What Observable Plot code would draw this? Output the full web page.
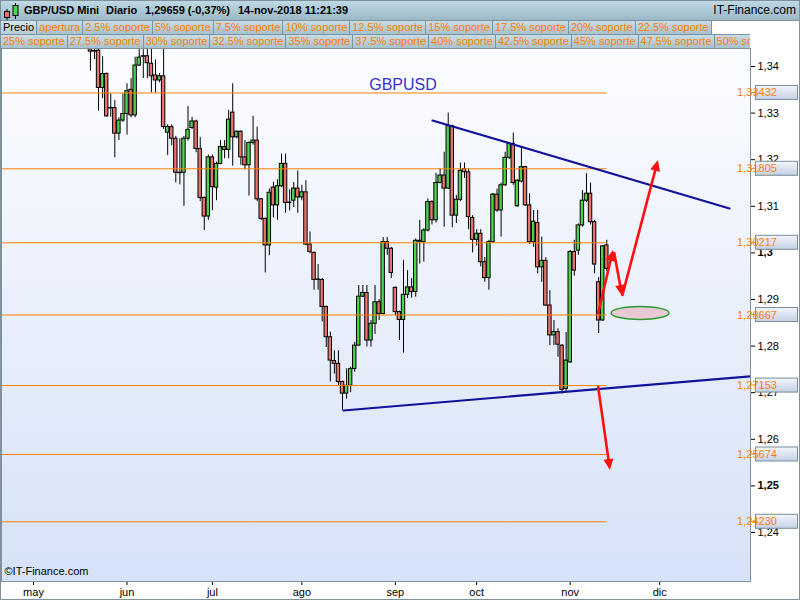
<!DOCTYPE html>
<html><head><meta charset="utf-8">
<script src="https://cdn.jsdelivr.net/npm/d3@7"></script>
<script src="https://cdn.jsdelivr.net/npm/@observablehq/plot@0.6"></script>
<style>
body{margin:0;background:#fff;font-family:Arial,"Liberation Sans",sans-serif;}
#wrap{position:relative;width:800px;height:600px;overflow:hidden;background:#fff;}
.hdr{position:absolute;left:0;top:0;width:800px;height:21px;box-sizing:border-box;border:1px solid #7b93a1;background:linear-gradient(#bed9e4,#9cb8c6);}
.ht{position:absolute;top:3px;font-size:11px;font-weight:bold;color:#000;white-space:nowrap;}
.row{position:absolute;left:0;width:750px;height:15px;display:flex;overflow:hidden;}
.btn{flex:none;height:15px;box-sizing:border-box;border:1px solid #7d95a3;margin-right:-1px;padding:0 2px;background:linear-gradient(#c8dce5,#a7c1ce);color:#ff8000;font-size:11px;line-height:13px;white-space:nowrap;}
.fill{flex:1;background:#fff;}
#chart{position:absolute;left:0;top:48px;}
#border{position:absolute;left:0;top:0;width:800px;height:600px;box-sizing:border-box;border:1px solid #7f919d;pointer-events:none;}
</style></head>
<body>
<div id="wrap">
  <div class="hdr">
    <svg width="20" height="20" style="position:absolute;left:1px;top:0px">
      <line x1="5" y1="8" x2="5" y2="19" stroke="#000"/>
      <rect x="2.5" y="10.5" width="5" height="6" fill="#e8726e" stroke="#000"/>
      <line x1="13.5" y1="2" x2="13.5" y2="18" stroke="#000"/>
      <rect x="11" y="4.5" width="5" height="10" fill="#4fd34f" stroke="#000"/>
    </svg>
    <span class="ht" style="left:23px">GBP/USD Mini</span>
    <span class="ht" style="left:105px">Diario</span>
    <span class="ht" style="left:144px">1,29659 (-0,37%)</span>
    <span class="ht" style="left:237px">14-nov-2018 11:21:39</span>
    <span class="ht" style="right:3px;font-weight:normal;font-size:12px;top:2px">IT-Finance.com</span>
  </div>
  <div class="row" id="row1" style="top:20px"></div>
  <div class="row" id="row2" style="top:34px"></div>
  <div id="chart"></div>
  <div id="border"></div>
</div>
<script>
// ---- data ----
const legendRow1 = ["Precio","apertura","2.5% soporte","5% soporte","7.5% soporte","10% soporte","12.5% soporte","15% soporte","17.5% soporte","20% soporte","22.5% soporte"];
const legendRow2 = ["25% soporte","27.5% soporte","30% soporte","32.5% soporte","35% soporte","37.5% soporte","40% soporte","42.5% soporte","45% soporte","47.5% soporte","50% soporte"];

// trading-day index of first candle (0 = 1 May 2018)
const firstIndex = 14;
const open = [1.3437,1.3432,1.3434,1.3354,1.3384,1.3310,1.3311,1.3256,1.3284,1.3298,1.3350,1.3295,1.3402,1.3422,1.3422,1.3406,1.3381,1.3370,1.3379,1.3258,1.3270,1.3245,1.3172,1.3172,1.3245,1.3268,1.3282,1.3223,1.3118,1.3078,1.3205,1.3140,1.3191,1.3227,1.3221,1.3301,1.3248,1.3260,1.3205,1.3188,1.3236,1.3241,1.3115,1.3073,1.3016,1.3140,1.3102,1.3143,1.3191,1.3107,1.3112,1.3138,1.3119,1.3130,1.3018,1.3000,1.2942,1.2942,1.2884,1.2819,1.2768,1.2762,1.2723,1.2698,1.2715,1.2751,1.2801,1.2906,1.2914,1.2812,1.2848,1.2894,1.2869,1.3023,1.3009,1.2925,1.2873,1.2856,1.2910,1.2926,1.2916,1.3026,1.3023,1.3048,1.3109,1.3070,1.3150,1.3166,1.3138,1.3272,1.3080,1.3114,1.3180,1.3173,1.3075,1.3028,1.3041,1.2980,1.2946,1.3023,1.3125,1.3091,1.3145,1.3204,1.3234,1.3100,1.3153,1.3184,1.3102,1.3023,1.3064,1.2969,1.2983,1.2887,1.2823,1.2830,1.2801,1.2708,1.2765,1.3002,1.3005,1.3059,1.3112,1.3127,1.3066,1.2937,1.2855,1.3016];
const high = [1.3450,1.3441,1.3440,1.3421,1.3386,1.3341,1.3327,1.3290,1.3341,1.3363,1.3374,1.3420,1.3437,1.3436,1.3440,1.3437,1.3414,1.3385,1.3437,1.3275,1.3275,1.3250,1.3245,1.3250,1.3314,1.3291,1.3285,1.3248,1.3120,1.3210,1.3210,1.3195,1.3241,1.3241,1.3306,1.3363,1.3262,1.3262,1.3241,1.3238,1.3293,1.3270,1.3117,1.3075,1.3137,1.3152,1.3157,1.3212,1.3212,1.3135,1.3151,1.3176,1.3145,1.3155,1.3045,1.3002,1.2975,1.2945,1.2886,1.2830,1.2790,1.2790,1.2725,1.2751,1.2755,1.2808,1.2930,1.2930,1.2930,1.2855,1.2930,1.2900,1.3033,1.3033,1.3012,1.2927,1.2875,1.2984,1.2962,1.2945,1.3030,1.3070,1.3052,1.3116,1.3112,1.3171,1.3180,1.3216,1.3300,1.3274,1.3123,1.3193,1.3193,1.3180,1.3080,1.3050,1.3050,1.2990,1.3027,1.3128,1.3137,1.3150,1.3216,1.3236,1.3257,1.3157,1.3226,1.3186,1.3127,1.3091,1.3091,1.3034,1.2990,1.2919,1.2855,1.2837,1.2803,1.2829,1.3005,1.3027,1.3062,1.3134,1.3170,1.3150,1.3070,1.2947,1.3016,1.3027];
const low = [1.3390,1.3415,1.3304,1.3331,1.3291,1.3291,1.3204,1.3241,1.3280,1.3253,1.3290,1.3290,1.3400,1.3374,1.3374,1.3343,1.3343,1.3365,1.3265,1.3209,1.3230,1.3150,1.3146,1.3100,1.3240,1.3265,1.3215,1.3110,1.3048,1.3070,1.3091,1.3112,1.3189,1.3202,1.3202,1.3186,1.3245,1.3188,1.3178,1.3122,1.3231,1.3110,1.3069,1.2957,1.2994,1.3075,1.3070,1.3140,1.3085,1.3090,1.3097,1.3085,1.3112,1.3015,1.2998,1.2920,1.2920,1.2852,1.2797,1.2723,1.2740,1.2715,1.2662,1.2686,1.2700,1.2744,1.2800,1.2904,1.2798,1.2798,1.2825,1.2855,1.2867,1.2995,1.2945,1.2865,1.2812,1.2785,1.2902,1.2903,1.2905,1.2976,1.2980,1.3045,1.3060,1.3064,1.3148,1.3055,1.3136,1.3054,1.3063,1.3110,1.3160,1.3050,1.3000,1.3015,1.2970,1.2937,1.2920,1.3021,1.3087,1.3034,1.3143,1.3200,1.3145,1.3098,1.3150,1.3100,1.3018,1.3012,1.2955,1.2937,1.2885,1.2801,1.2801,1.2776,1.2697,1.2700,1.2763,1.2950,1.2995,1.3055,1.3108,1.3060,1.2955,1.2827,1.2853,1.2960];
const close = [1.3432,1.3433,1.3354,1.3384,1.3293,1.3311,1.3256,1.3284,1.3298,1.3347,1.3295,1.3402,1.3419,1.3421,1.3407,1.3379,1.3370,1.3379,1.3270,1.3270,1.3245,1.3172,1.3171,1.3245,1.3264,1.3282,1.3223,1.3118,1.3078,1.3205,1.3141,1.3191,1.3227,1.3221,1.3286,1.3248,1.3260,1.3205,1.3188,1.3236,1.3241,1.3115,1.3073,1.3016,1.3129,1.3102,1.3143,1.3191,1.3107,1.3108,1.3138,1.3119,1.3130,1.3018,1.3002,1.2942,1.2943,1.2884,1.2819,1.2769,1.2762,1.2723,1.2698,1.2715,1.2751,1.2801,1.2906,1.2914,1.2812,1.2848,1.2894,1.2869,1.3023,1.3009,1.2957,1.2873,1.2856,1.2910,1.2926,1.2916,1.3026,1.3024,1.3048,1.3109,1.3070,1.3150,1.3166,1.3138,1.3272,1.3080,1.3114,1.3176,1.3173,1.3077,1.3028,1.3041,1.2980,1.2946,1.3023,1.3125,1.3091,1.3145,1.3204,1.3234,1.3150,1.3155,1.3184,1.3102,1.3023,1.3067,1.2969,1.2983,1.2887,1.2823,1.2830,1.2803,1.2706,1.2769,1.3002,1.2962,1.3059,1.3112,1.3127,1.3066,1.2975,1.2855,1.3014,1.29659];

// support / resistance levels
const levels = [1.33432, 1.31805, 1.30217, 1.28667, 1.27153, 1.25674, 1.24230];
const levelLabels = ["1,33432","1,31805","1,30217","1,28667","1,27153","1,25674","1,24230"];

// axis ticks
const yTicks = [1.24, 1.26, 1.27, 1.28, 1.29, 1.31, 1.32, 1.33, 1.34];
const yTicksBold = [1.25, 1.30];
const monthIdx = [0, 23, 44, 66, 89, 109, 132, 154];
const monthLabels = ["may","jun","jul","ago","sep","oct","nov","dic"];

// annotations (trading-day index, price)
const upperTrend = [{i: 98.13, v: 1.32841}, {i: 171.18, v: 1.30953}];
const lowerTrend = [{i: 76.24, v: 1.26618}, {i: 176.3, v: 1.27352}];
const arrows = [
  {i1: 138.96, v1: 1.28678, i2: 142.65, v2: 1.30052},
  {i1: 142.90, v1: 1.30009, i2: 144.90, v2: 1.29064},
  {i1: 144.90, v1: 1.29064, i2: 153.70, v2: 1.31983},
  {i1: 138.96, v1: 1.27133, i2: 141.90, v2: 1.25330}
];
const target = {i: 149.3, v: 1.2870};

// ---- legend rows ----
function buildRow(id, labels, first) {
  const row = document.getElementById(id);
  labels.forEach((t, k) => {
    const b = document.createElement("div");
    b.className = "btn";
    b.textContent = t;
    if (first && k === 0) { b.style.color = "#000"; b.style.background = "linear-gradient(#d4e4eb,#b6ccd7)"; }
    row.appendChild(b);
  });
  if (first) { const f = document.createElement("div"); f.className = "btn fill"; row.appendChild(f); }
}
buildRow("row1", legendRow1, true);
buildRow("row2", legendRow2, false);

// ---- candles ----
const candles = open.map((o, k) => ({i: firstIndex + k, o, h: high[k], l: low[k], c: close[k]}));
const lastIndex = firstIndex + open.length - 1;
const GREEN = "#4fd34f", RED = "#e8726e";
const monthMap = new Map(monthIdx.map((d, k) => [d, monthLabels[k]]));
const fmt = v => d3.format(".2~f")(v).replace(".", ",");

const xDomain = [-7.87, 176.34];
const chart = Plot.plot({
  width: 800, height: 552,
  marginTop: 0, marginBottom: 19, marginLeft: 1, marginRight: 50,
  style: {fontFamily: "Arial, 'Liberation Sans', sans-serif", fontSize: "11px", background: "transparent", overflow: "visible"},
  x: {domain: xDomain, axis: null, label: null},
  y: {domain: [1.229485, 1.343863], axis: null, label: null},
  marks: [
    Plot.frame({fill: "url(#plotbg)"}),
    Plot.ruleX(candles, {x: "i", y1: "l", y2: "h", stroke: "#000", strokeWidth: 1, clip: true}),
    Plot.rect(candles, {x1: d => d.i - 0.42, x2: d => d.i + 0.42, y1: "o", y2: "c",
      fill: d => d.c >= d.o ? GREEN : RED, stroke: "#000", strokeWidth: 1, clip: true}),
    Plot.ruleY(levels, {y: d => d, x1: xDomain[0], x2: lastIndex, stroke: "#ff8000", strokeWidth: 1}),
    Plot.line(upperTrend, {x: "i", y: "v", stroke: "#12129a", strokeWidth: 2.2, clip: true}),
    Plot.line(lowerTrend, {x: "i", y: "v", stroke: "#12129a", strokeWidth: 2.2, clip: true}),
    Plot.text(["GBPUSD"], {frameAnchor: "top", dx: 27, dy: 30, fill: "#3434c8", fontSize: 16}),
    Plot.text(["©IT-Finance.com"], {frameAnchor: "bottom-left", dx: 3, dy: -7, textAnchor: "start", fill: "#000", fontSize: 11}),
    Plot.axisY({anchor: "right", ticks: yTicks, tickFormat: fmt, tickSize: 4, tickPadding: 3, color: "#000", fontSize: 11, label: null}),
    Plot.axisY({anchor: "right", ticks: yTicksBold, tickFormat: fmt, tickSize: 4, tickPadding: 3, color: "#000", fontSize: 11, fontWeight: "bold", label: null}),
    Plot.axisX({anchor: "bottom", ticks: monthIdx, tickFormat: d => monthMap.get(d), tickSize: 4, tickPadding: 3, color: "#000", fontSize: 11, label: null}),
    Plot.frame({stroke: "#7f919d"})
  ]
});
document.getElementById("chart").appendChild(chart);

// ---- decorations via the plot's scales ----
const svg = d3.select(chart);
const defs = svg.insert("defs", ":first-child");
const g1 = defs.append("linearGradient").attr("id", "plotbg").attr("x1", 0).attr("y1", 0).attr("x2", 0).attr("y2", 1);
g1.append("stop").attr("offset", 0).attr("stop-color", "#fcfdff");
g1.append("stop").attr("offset", 1).attr("stop-color", "#d6e2f8");
const g2 = defs.append("linearGradient").attr("id", "lblbg").attr("x1", 0).attr("y1", 0).attr("x2", 0).attr("y2", 1);
g2.append("stop").attr("offset", 0).attr("stop-color", "#f3f6fc");
g2.append("stop").attr("offset", 1).attr("stop-color", "#c3d0e6");

const sx = chart.scale("x"), sy = chart.scale("y");
const X = v => sx.apply(v), Y = v => sy.apply(v);

// target ellipse
svg.append("ellipse").attr("cx", X(target.i)).attr("cy", Y(target.v)).attr("rx", 29).attr("ry", 6.5)
  .attr("fill", "#e9c9d3").attr("stroke", "#2f9a2f").attr("stroke-width", 1.5);

// red arrows
const ag = svg.append("g");
arrows.forEach(a => {
  const x1 = X(a.i1), y1 = Y(a.v1), x2 = X(a.i2), y2 = Y(a.v2);
  const dx = x2 - x1, dy = y2 - y1, len = Math.hypot(dx, dy), ux = dx / len, uy = dy / len;
  const L = 11, W = 5;
  const bx = x2 - ux * L, by = y2 - uy * L;
  ag.append("line").attr("x1", x1).attr("y1", y1).attr("x2", bx + ux * 2).attr("y2", by + uy * 2)
    .attr("stroke", "#ff1010").attr("stroke-width", 2.6);
  ag.append("path").attr("d", `M${x2},${y2}L${bx - uy * W},${by + ux * W}L${bx + uy * W},${by - ux * W}Z`)
    .attr("fill", "#ff1010");
});

// level value boxes on the price axis
const right = X(xDomain[1]);
const lg = svg.append("g");
levels.forEach((v, k) => {
  const y = Y(v);
  lg.append("line").attr("x1", right).attr("x2", right + 6).attr("y1", y).attr("y2", y).attr("stroke", "#ff8000");
  lg.append("rect").attr("x", right + 5.5).attr("y", y - 7).attr("width", 42).attr("height", 14)
    .attr("fill", "url(#lblbg)").attr("stroke", "#7a8c98");
  lg.append("text").attr("x", right + 7).attr("y", y + 4).attr("fill", "#ff8000")
    .attr("font-size", 11).attr("font-family", "Arial, 'Liberation Sans', sans-serif").text(levelLabels[k]);
});
</script>
</body></html>
